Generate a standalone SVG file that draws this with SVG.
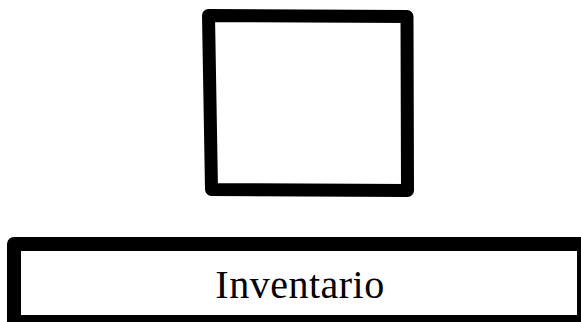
<svg xmlns="http://www.w3.org/2000/svg" width="581" height="322" viewBox="0 0 581 322">
<style>
.box{fill:#fff;stroke:#000;stroke-linejoin:round}
.lbl{font-family:"Liberation Serif","Times New Roman",serif;font-size:40px;fill:#000;text-anchor:middle;letter-spacing:0.5px}
</style>
<rect width="581" height="322" fill="#fff"/>
<g id="connectors"></g>
<g id="node-square">
<path class="box" stroke-width="13" d="M208.5,15.5 L407,16.5 L407.5,190.5 L211.5,189.5 Z"/>
</g>
<g id="node-inventario">
<rect class="box" stroke-width="14" x="14" y="244" width="570" height="78"/>
<text class="lbl" x="300" y="298">Inventario</text>
</g>
</svg>
